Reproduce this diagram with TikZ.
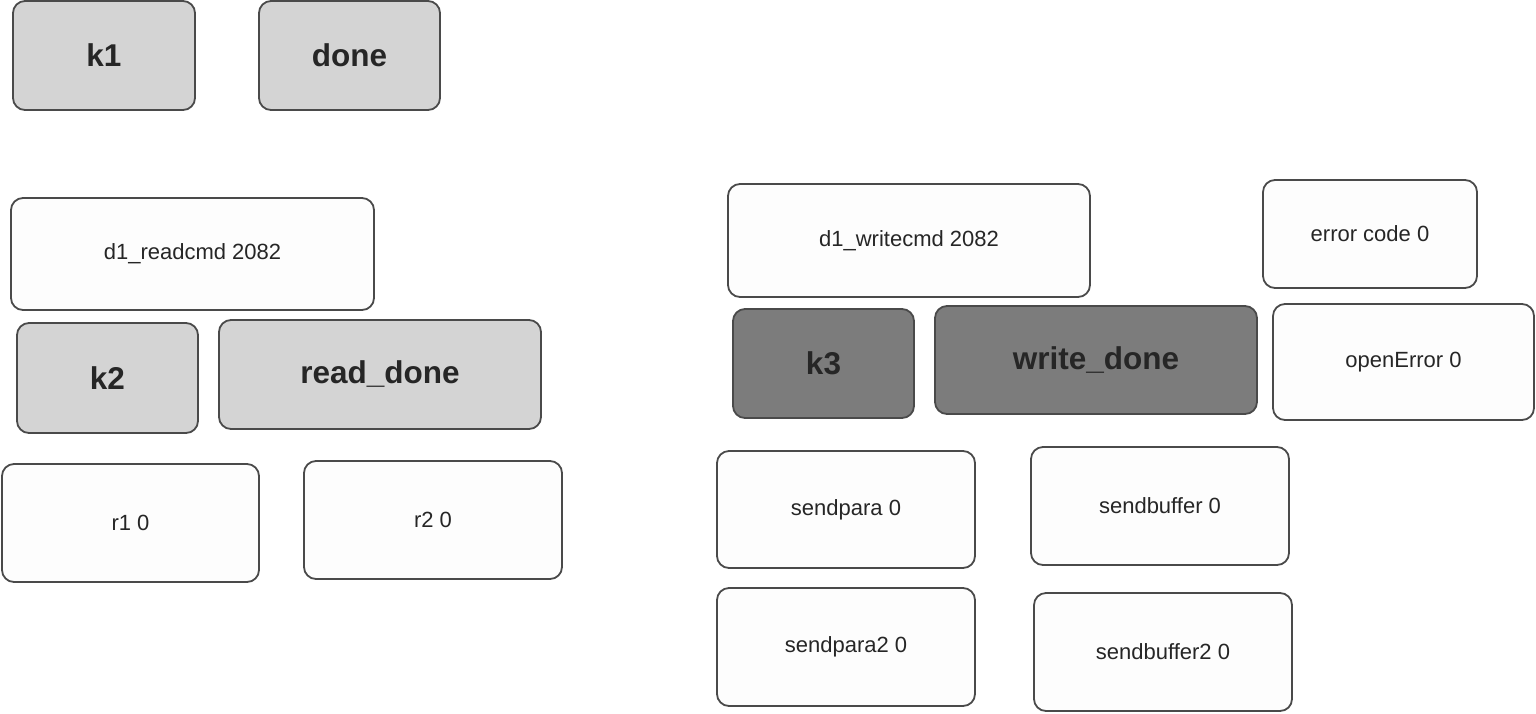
\documentclass[tikz,border=0pt]{standalone}
\usepackage{fontspec}
\setmainfont{Liberation Sans}
\definecolor{lightbox}{HTML}{D4D4D4}
\definecolor{darkbox}{HTML}{7C7C7C}
\definecolor{whitebox}{HTML}{FDFDFD}
\definecolor{edge}{HTML}{4A4A4A}
\begin{document}
\begin{tikzpicture}[x=1pt,y=-1pt,
  box/.style={draw=edge, line width=1.8pt, rounded corners=12pt},
  lbox/.style={box, fill=lightbox},
  dbox/.style={box, fill=darkbox},
  wbox/.style={box, fill=whitebox},
  big/.style={font=\fontsize{31.5}{34}\selectfont\bfseries, text=black!85},
  small/.style={font=\fontsize{22}{26}\selectfont, text=black!85}]
\useasboundingbox[fill=white] (0,0) rectangle (1536,713);
% left group
\draw[lbox] (13,1) rectangle (195,110) node[midway,big] (k1) {k1};
\draw[lbox] (259,1) rectangle (440,110) node[midway,big] (done) {done};
\draw[wbox] (11,198) rectangle (374,310) node[midway,small] (rcmd) {d1\_readcmd 2082};
\draw[lbox] (17,323) rectangle (198,433) node[midway,big] (k2) {k2};
\draw[lbox] (219,320) rectangle (541,429) node[midway,big] (rdone) {read\_done};
\draw[wbox] (2,464) rectangle (259,582) node[midway,small] (r1) {r1 0};
\draw[wbox] (304,461) rectangle (562,579) node[midway,small] (r2) {r2 0};
% right group
\draw[wbox] (728,184) rectangle (1090,297) node[midway,small] (wcmd) {d1\_writecmd 2082};
\draw[wbox] (1263,180) rectangle (1477,288) node[midway,small] (err) {error code 0};
\draw[dbox] (733,309) rectangle (914,418) node[midway,big] (k3) {k3};
\draw[dbox] (935,306) rectangle (1257,414) node[midway,big] (wdone) {write\_done};
\draw[wbox] (1273,304) rectangle (1534,420) node[midway,small] (oerr) {openError 0};
\draw[wbox] (717,451) rectangle (975,568) node[midway,small] (sp) {sendpara 0};
\draw[wbox] (1031,447) rectangle (1289,565) node[midway,small] (sb) {sendbuffer 0};
\draw[wbox] (717,588) rectangle (975,706) node[midway,small] (sp2) {sendpara2 0};
\draw[wbox] (1034,593) rectangle (1292,711) node[midway,small] (sb2) {sendbuffer2 0};
\end{tikzpicture}
\end{document}
